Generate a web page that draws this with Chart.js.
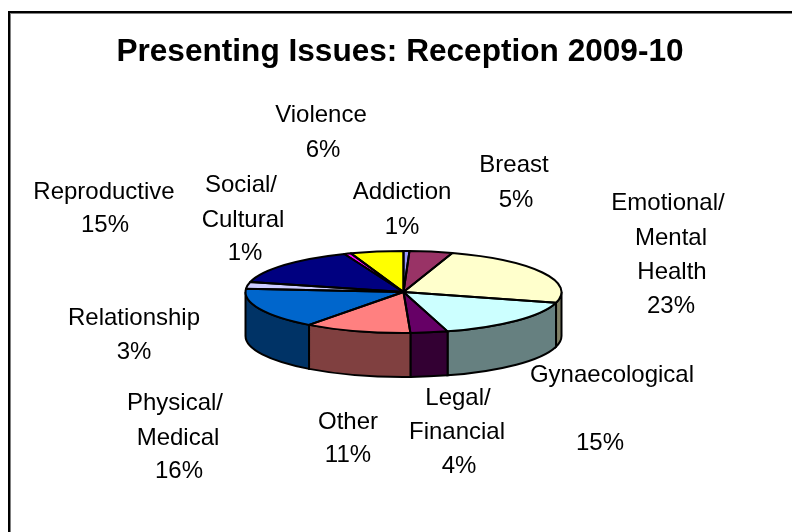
<!DOCTYPE html>
<html>
<head>
<meta charset="utf-8">
<title>Presenting Issues: Reception 2009-10</title>
<script src="https://cdn.jsdelivr.net/npm/chart.js@4"></script>
<style>
  html, body { margin: 0; padding: 0; background: #fff; overflow: hidden; }
  #wrap { position: relative; width: 792px; height: 532px; }
  #frame { position: absolute; left: 8px; top: 11px; width: 900px; height: 900px; border: 2px solid #000; box-shadow: inset 1px 1px 0 #808080; box-sizing: border-box; }
  canvas { position: absolute; left: 0; top: 0; }
</style>
</head>
<body>
<div id="wrap">
  <div id="frame"></div>
  <canvas id="pie" width="792" height="532"></canvas>
</div>
<script>
const chartTitle = 'Presenting Issues: Reception 2009-10';
const categories = ['Addiction', 'Breast', 'Emotional/ Mental Health', 'Gynaecological', 'Legal/ Financial',
  'Other', 'Physical/ Medical', 'Relationship', 'Reproductive', 'Social/ Cultural', 'Violence'];
const shares = [0.6, 4.4, 24.2, 16.3, 3.8, 10.9, 16.1, 2.6, 15.0, 0.7, 5.4];
const sliceColors = ['#9999FF', '#993366', '#FFFFCC', '#CCFFFF', '#660066', '#FF8080',
  '#0066CC', '#CCCCFF', '#000080', '#FF00FF', '#FFFF00'];
const wallColors = ['#4D4D80', '#4D1A33', '#808066', '#668080', '#330033', '#804040',
  '#003366', '#666680', '#000040', '#800080', '#808000'];

const squash = 41 / 158;
const depth = 44;
const fontFamily = '"Liberation Sans", Arial, sans-serif';

// where each label's lines sit: centre x, centre y
const labelLines = [
  [['Addiction', 402, 192], ['1%', 402, 227]],
  [['Breast', 514, 165], ['5%', 516, 200]],
  [['Emotional/', 668, 203], ['Mental', 671, 238], ['Health', 672, 272], ['23%', 671, 306]],
  [['Gynaecological', 612, 375], ['15%', 600, 443]],
  [['Legal/', 458, 398], ['Financial', 457, 432], ['4%', 459, 466]],
  [['Other', 348, 422], ['11%', 348, 455]],
  [['Physical/', 175, 403], ['Medical', 178, 438], ['16%', 179, 471]],
  [['Relationship', 134, 318], ['3%', 134, 352]],
  [['Reproductive', 104, 192], ['15%', 105, 225]],
  [['Social/', 241, 185], ['Cultural', 243, 220], ['1%', 245, 253]],
  [['Violence', 321, 115], ['6%', 323, 150]]
];

const pie3d = {
  id: 'pie3d',
  beforeDatasetsDraw(chart) {
    const ctx = chart.ctx;
    ctx.save();
    ctx.lineWidth = 2;
    ctx.strokeStyle = '#000';
    // side wall, only the front half of the rim can be seen
    chart.getDatasetMeta(0).data.forEach((arc, i) => {
      const a1 = Math.max(arc.startAngle, 0);
      const a2 = Math.min(arc.endAngle, Math.PI);
      if (a2 <= a1) return;
      const r = arc.outerRadius;
      ctx.beginPath();
      ctx.ellipse(arc.x, arc.y, r, r * squash, 0, a1, a2);
      ctx.ellipse(arc.x, arc.y + depth, r, r * squash, 0, a2, a1, true);
      ctx.closePath();
      ctx.fillStyle = wallColors[i];
      ctx.fill();
      ctx.stroke();
    });
    ctx.restore();
  },
  beforeDatasetDraw(chart) {
    const ctx = chart.ctx;
    const arc = chart.getDatasetMeta(0).data[0];
    ctx.save();
    ctx.translate(arc.x, arc.y);
    ctx.scale(1, squash);
    ctx.translate(-arc.x, -arc.y);
  },
  afterDatasetDraw(chart) {
    chart.ctx.restore();
  },
  afterDatasetsDraw(chart) {
    const ctx = chart.ctx;
    ctx.save();
    ctx.lineWidth = 2;
    ctx.strokeStyle = '#000';
    ctx.lineJoin = 'round';
    // outlines drawn unscaled so the pen keeps one width
    chart.getDatasetMeta(0).data.forEach(arc => {
      const r = arc.outerRadius;
      ctx.beginPath();
      ctx.moveTo(arc.x, arc.y);
      ctx.ellipse(arc.x, arc.y, r, r * squash, 0, arc.startAngle, arc.endAngle);
      ctx.closePath();
      ctx.stroke();
    });
    ctx.restore();
  },
  afterDraw(chart) {
    const ctx = chart.ctx;
    ctx.save();
    ctx.fillStyle = '#000';
    ctx.textAlign = 'center';
    ctx.textBaseline = 'middle';
    ctx.font = 'bold 31.6px ' + fontFamily;
    ctx.fillText(chartTitle, 400, 52);
    ctx.font = '24px ' + fontFamily;
    labelLines.forEach(lines => lines.forEach(([text, x, y]) => ctx.fillText(text, x, y)));
    ctx.restore();
  }
};

new Chart(document.getElementById('pie'), {
  type: 'pie',
  data: {
    labels: categories,
    datasets: [{
      data: shares,
      backgroundColor: sliceColors,
      borderWidth: 0
    }]
  },
  options: {
    responsive: false,
    animation: false,
    layout: { padding: { left: 245, right: 230, top: 134, bottom: 82 } },
    plugins: {
      legend: { display: false },
      tooltip: { enabled: false },
      title: { display: false }
    }
  },
  plugins: [pie3d]
});
</script>
</body>
</html>
